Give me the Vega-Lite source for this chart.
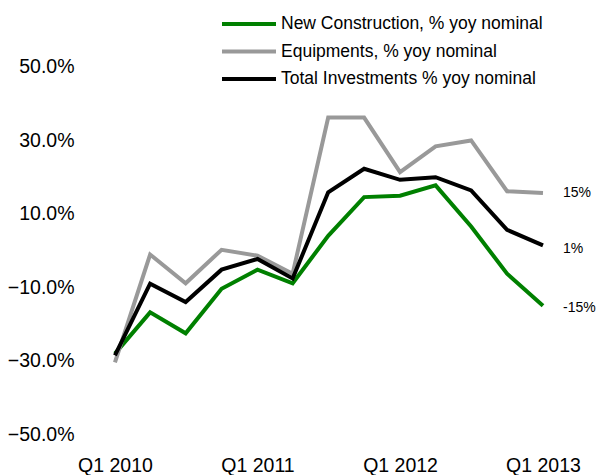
{
  "$schema": "https://vega.github.io/schema/vega-lite/v6.json",
  "width": 462,
  "height": 405,
  "autosize": {"type": "none"},
  "padding": {"left": 97, "top": 48, "right": 38, "bottom": 22},
  "background": "white",
  "config": {
    "view": {"stroke": null},
    "font": "Liberation Sans"
  },
  "datasets": {
    "series": [
      {"date": "2010/01/01", "series": "New Construction, % yoy nominal", "value": -28.0},
      {"date": "2010/04/01", "series": "New Construction, % yoy nominal", "value": -16.8},
      {"date": "2010/07/01", "series": "New Construction, % yoy nominal", "value": -22.5},
      {"date": "2010/10/01", "series": "New Construction, % yoy nominal", "value": -10.4},
      {"date": "2011/01/01", "series": "New Construction, % yoy nominal", "value": -5.2},
      {"date": "2011/04/01", "series": "New Construction, % yoy nominal", "value": -8.9},
      {"date": "2011/07/01", "series": "New Construction, % yoy nominal", "value": 4.0},
      {"date": "2011/10/01", "series": "New Construction, % yoy nominal", "value": 14.5},
      {"date": "2012/01/01", "series": "New Construction, % yoy nominal", "value": 14.9},
      {"date": "2012/04/01", "series": "New Construction, % yoy nominal", "value": 17.7},
      {"date": "2012/07/01", "series": "New Construction, % yoy nominal", "value": 6.5},
      {"date": "2012/10/01", "series": "New Construction, % yoy nominal", "value": -6.3},
      {"date": "2013/01/01", "series": "New Construction, % yoy nominal", "value": -15.0},
      {"date": "2010/01/01", "series": "Equipments, % yoy nominal", "value": -30.4},
      {"date": "2010/04/01", "series": "Equipments, % yoy nominal", "value": -1.1},
      {"date": "2010/07/01", "series": "Equipments, % yoy nominal", "value": -8.9},
      {"date": "2010/10/01", "series": "Equipments, % yoy nominal", "value": 0.2},
      {"date": "2011/01/01", "series": "Equipments, % yoy nominal", "value": -1.4},
      {"date": "2011/04/01", "series": "Equipments, % yoy nominal", "value": -6.3},
      {"date": "2011/07/01", "series": "Equipments, % yoy nominal", "value": 36.1},
      {"date": "2011/10/01", "series": "Equipments, % yoy nominal", "value": 36.1},
      {"date": "2012/01/01", "series": "Equipments, % yoy nominal", "value": 21.3},
      {"date": "2012/04/01", "series": "Equipments, % yoy nominal", "value": 28.3},
      {"date": "2012/07/01", "series": "Equipments, % yoy nominal", "value": 29.9},
      {"date": "2012/10/01", "series": "Equipments, % yoy nominal", "value": 16.1},
      {"date": "2013/01/01", "series": "Equipments, % yoy nominal", "value": 15.6},
      {"date": "2010/01/01", "series": "Total Investments % yoy nominal", "value": -28.5},
      {"date": "2010/04/01", "series": "Total Investments % yoy nominal", "value": -9.0},
      {"date": "2010/07/01", "series": "Total Investments % yoy nominal", "value": -14.0},
      {"date": "2010/10/01", "series": "Total Investments % yoy nominal", "value": -5.2},
      {"date": "2011/01/01", "series": "Total Investments % yoy nominal", "value": -2.3},
      {"date": "2011/04/01", "series": "Total Investments % yoy nominal", "value": -7.6},
      {"date": "2011/07/01", "series": "Total Investments % yoy nominal", "value": 15.8},
      {"date": "2011/10/01", "series": "Total Investments % yoy nominal", "value": 22.2},
      {"date": "2012/01/01", "series": "Total Investments % yoy nominal", "value": 19.2},
      {"date": "2012/04/01", "series": "Total Investments % yoy nominal", "value": 19.9},
      {"date": "2012/07/01", "series": "Total Investments % yoy nominal", "value": 16.3},
      {"date": "2012/10/01", "series": "Total Investments % yoy nominal", "value": 5.6},
      {"date": "2013/01/01", "series": "Total Investments % yoy nominal", "value": 1.4}
    ],
    "labels": [
      {"date": "2013/01/01", "label": "15%", "value": 15.5},
      {"date": "2013/01/01", "label": "1%", "value": 0.3},
      {"date": "2013/01/01", "label": "-15%", "value": -15.5}
    ]
  },
  "layer": [
    {
      "mark": {"type": "rule", "color": "black", "strokeWidth": 2},
      "encoding": {"y": {"datum": 0, "type": "quantitative"}}
    },
    {
      "data": {"name": "series"},
      "mark": {"type": "line", "strokeWidth": 4, "strokeJoin": "miter", "strokeCap": "butt"},
      "encoding": {
        "x": {
          "field": "date",
          "type": "temporal",
          "scale": {"domain": [{"year": 2009, "month": 11, "date": 16}, {"year": 2013, "month": 2, "date": 11}]},
          "axis": {
            "title": null,
            "domain": false,
            "ticks": false,
            "grid": false,
            "values": [
              {"year": 2010, "month": 1, "date": 1},
              {"year": 2011, "month": 1, "date": 1},
              {"year": 2012, "month": 1, "date": 1},
              {"year": 2013, "month": 1, "date": 1}
            ],
            "format": "Q%q %Y",
            "labelFontSize": 19.5,
            "labelColor": "black",
            "labelPadding": 3,
            "labelFlush": false
          }
        },
        "y": {
          "field": "value",
          "type": "quantitative",
          "scale": {"domain": [-55, 55], "nice": false, "zero": false},
          "axis": {
            "title": null,
            "domain": false,
            "ticks": false,
            "grid": false,
            "values": [-50, -30, -10, 10, 30, 50],
            "labelExpr": "format(datum.value, '.1f') + '%'",
            "labelFontSize": 19.5,
            "labelColor": "black",
            "labelPadding": 23
          }
        },
        "color": {
          "field": "series",
          "type": "nominal",
          "sort": ["New Construction, % yoy nominal", "Equipments, % yoy nominal", "Total Investments % yoy nominal"],
          "scale": {
            "domain": ["New Construction, % yoy nominal", "Equipments, % yoy nominal", "Total Investments % yoy nominal"],
            "range": ["#008000", "#999999", "#000000"]
          },
          "legend": {
            "title": null,
            "orient": "none",
            "legendX": 141,
            "legendY": -35,
            "symbolType": "M-3,0H3",
            "symbolSize": 324,
            "symbolStrokeWidth": 4,
            "labelFontSize": 17.5,
            "labelLimit": 0,
            "labelColor": "black",
            "labelOffset": 21,
            "rowPadding": 7.5
          }
        },
        "order": {"field": "date", "type": "temporal"}
      }
    },
    {
      "data": {"name": "labels"},
      "mark": {"type": "text", "align": "left", "baseline": "middle", "dx": 20, "fontSize": 14, "color": "black"},
      "encoding": {
        "x": {"field": "date", "type": "temporal"},
        "y": {"field": "value", "type": "quantitative"},
        "text": {"field": "label"}
      }
    }
  ]
}
